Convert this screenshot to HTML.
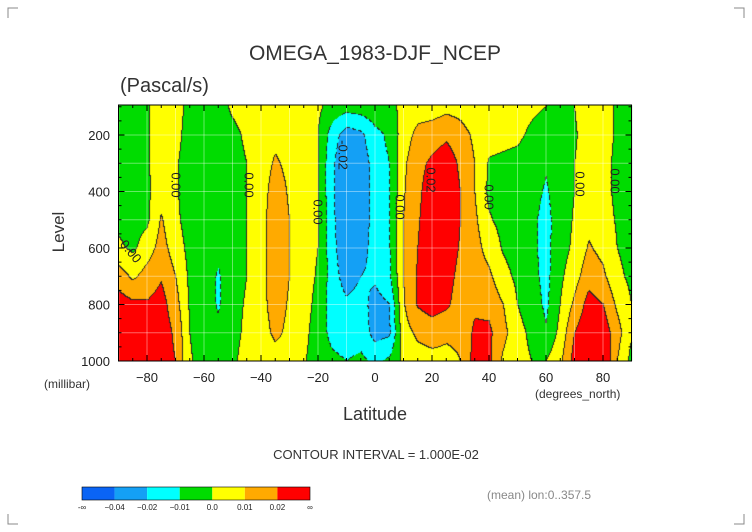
<!DOCTYPE html>
<html><head><meta charset="utf-8">
<style>
html,body{margin:0;padding:0;background:#fff;}
#wrap{position:relative;width:752px;height:532px;overflow:hidden;font-family:"Liberation Sans",sans-serif;}
canvas{position:absolute;left:0;top:0;}
svg{position:absolute;left:0;top:0;}
</style></head>
<body>
<div id="wrap">
<canvas id="cv" width="752" height="532"></canvas>
<svg id="sv" width="752" height="532"></svg>
</div>
<script>
// ---- data (omega in 1e-3 Pa/s) ----
const lats = [-90,-85,-80,-75,-70,-65,-60,-55,-50,-45,-40,-35,-30,-25,-20,-15,-10,-5,0,5,10,15,20,25,30,35,40,45,50,55,60,65,70,75,80,85,90];
const levels = [100,200,300,400,500,600,700,800,900,1000];
const col_m90=[-5,-5,-5,-5,-3,2,15,25,30,25];
const col_m85=[-4,-4,-4,-4,-4,-2,8,22,30,28];
const col_m80=[-1,-1,-1,-2,-2,5,14,21,28,30];
const col_m75=[5,5,5,6,11,14,19,24,26,25];
const col_m70=[4,3,1,1,2,5,10,14,18,20];
const col_m65=[-3,-4,-4,-4,-4,-3,-2,-1,0,1];
const col_m60=[-4,-5,-5,-5,-5,-5,-5,-5,-4,-4];
const col_m55=[-5,-5,-5,-5,-6,-8,-11,-11,-8,-6];
const col_m50=[2,-3,-4,-4,-4,-4,-4,-3,-3,-2];
const col_m45=[5,2,0,0,0,0,0,1,2,4];
const col_m40=[6,6,6,6,7,7,7,7,6,5];
const col_m35=[6,8,11,14,15,15,15,14,12,6];
const col_m30=[5,6,8,9,10,10,10,9,8,5];
const col_m25=[4,4,3,3,4,4,4,4,3,1];
const col_m20=[2,0,0,0,0,0,-1,-3,-5,-5];
const col_m15=[-4,-15,-18,-18,-17,-16,-15,-15,-13,-8];
const col_m10=[-6,-25,-30,-32,-32,-30,-25,-18,-15,-10];
const col_m5=[-5,-22,-27,-28,-26,-24,-20,-16,-14,-8];
const col_0=[-3,-13,-15,-15,-16,-16,-18,-24,-24,-12];
const col_5=[-2,-8,-10,-11,-11,-11,-12,-20,-22,-8];
const col_10=[2,5,8,9,10,10,10,9,6,2];
const col_15=[5,13,17,18,19,20,21,21,12,6];
const col_20=[5,15,22,25,26,27,28,25,14,7];
const col_25=[7,18,26,28,28,26,24,22,12,7];
const col_30=[6,14,18,20,20,19,17,15,12,10];
const col_35=[3,8,10,10,12,14,15,18,22,24];
const col_40=[4,4,-1,-2,1,6,12,17,22,22];
const col_45=[4,3,-2,-4,-3,-1,3,10,13,8];
const col_50=[4,2,-3,-5,-5,-4,-2,0,3,3];
const col_55=[2,-2,-6,-7,-8,-8,-7,-5,-2,0];
const col_60=[0,-5,-9,-11,-13,-13,-13,-12,-9,0];
const col_65=[-1,-4,-5,-5,-5,-4,-2,0,3,8];
const col_70=[0,-1,0,0,1,2,6,12,20,24];
const col_75=[5,4,4,5,7,11,16,24,28,30];
const col_80=[3,3,3,3,4,7,12,20,26,30];
const col_85=[-1,-1,-2,-2,-1,0,2,8,14,10];
const col_90=[-5,-5,-4,-4,-3,-3,-2,0,1,-3];
const omegaCols=[col_m90,col_m85,col_m80,col_m75,col_m70,col_m65,col_m60,col_m55,col_m50,col_m45,col_m40,col_m35,col_m30,col_m25,col_m20,col_m15,col_m10,col_m5,col_0,col_5,col_10,col_15,col_20,col_25,col_30,col_35,col_40,col_45,col_50,col_55,col_60,col_65,col_70,col_75,col_80,col_85,col_90];
const thresholds=[-40,-20,-10,0,10,20];
const bandColors=[[10,100,245],[20,160,245],[0,255,255],[0,220,0],[255,255,0],[255,170,0],[255,0,0]];
const cbLabels=["-\u221e","\u22120.04","\u22120.02","\u22120.01","0.0","0.01","0.02","\u221e"];
const xTicks=[-80,-60,-40,-20,0,20,40,60,80];
const yTicks=[200,400,600,800,1000];

// ---- axes ----
const X0=118.5,X1=631.5,Y0=105,Y1=361;
function xs(lat){return X0+(lat+90)/180*(X1-X0);}
function ys(l){return 106.75+(l-100)*0.2825;}
function inv(x,y){return [(x-X0)/(X1-X0)*180-90, 100+(y-106.75)/0.2825];}
function valAt(lat,l){
  let i=0;while(i<lats.length-2&&lat>lats[i+1])i++;
  let j=0;while(j<levels.length-2&&l>levels[j+1])j++;
  let tx=(lat-lats[i])/(lats[i+1]-lats[i]);tx=Math.max(0,Math.min(1,tx));
  let ty=(l-levels[j])/(levels[j+1]-levels[j]);ty=Math.max(0,Math.min(1,ty));
  const a=omegaCols[i][j],b=omegaCols[i+1][j],c=omegaCols[i][j+1],d=omegaCols[i+1][j+1];
  return (a*(1-tx)+b*tx)*(1-ty)+(c*(1-tx)+d*tx)*ty;
}
function band(v){let k=0;while(k<thresholds.length&&v>=thresholds[k])k++;return k;}
const cv=document.getElementById('cv'),ctx=cv.getContext('2d');
const W=Math.round(X1-X0),H=Math.round(Y1-Y0);
const bands=[];
for(let y=0;y<H;y++){bands.push([]);for(let x=0;x<W;x++){const p=inv(X0+x+0.5,Y0+y+0.5);bands[y].push(band(valAt(p[0],p[1])));}}
const img=ctx.createImageData(W,H);
for(let y=0;y<H;y++)for(let x=0;x<W;x++){
  const b=bands[y][x];let c=bandColors[b];
  const edge=(x<W-1&&bands[y][x+1]!==b)||(y<H-1&&bands[y+1][x]!==b);
  if(edge){const neg=Math.min(b,x<W-1?bands[y][x+1]:b,y<H-1?bands[y+1][x]:b)<3&&Math.max(b,x<W-1?bands[y][x+1]:b,y<H-1?bands[y+1][x]:b)<=3;
    if(!neg||((x+y)%8<5))c=[40,40,40];}
  const o=(y*W+x)*4;img.data[o]=c[0];img.data[o+1]=c[1];img.data[o+2]=c[2];img.data[o+3]=255;}
ctx.putImageData(img,Math.round(X0),Y0);

// ---- svg overlay ----
const NS='http://www.w3.org/2000/svg',sv=document.getElementById('sv');
function mk(t,a,txt){const e=document.createElementNS(NS,t);for(const k in a)e.setAttribute(k,a[k]);if(txt!==undefined)e.textContent=txt;sv.appendChild(e);return e;}
for(let lat=-80;lat<=80;lat+=10){const g=mk('line',{x1:xs(lat),x2:xs(lat),y1:Y0,y2:Y1,stroke:'rgba(255,255,255,0.4)','stroke-width':1});
}
for(let l=200;l<1000;l+=100){const g=mk('line',{x1:X0,x2:X1,y1:ys(l),y2:ys(l),stroke:'rgba(255,255,255,0.4)','stroke-width':1});
}
const fr=mk('rect',{x:X0,y:Y0,width:X1-X0,height:Y1-Y0,fill:'none',stroke:'#000','stroke-width':1});

for(let lat=-90;lat<=90;lat+=5){const L=lat%20===0?6:3;
 mk('line',{x1:xs(lat),x2:xs(lat),y1:Y1,y2:Y1-L,stroke:'#000'});mk('line',{x1:xs(lat),x2:xs(lat),y1:Y0,y2:Y0+L,stroke:'#000'});}
for(let l=100;l<=1000;l+=50){const L=l%200===0?6:3;
 mk('line',{x1:X0,x2:X0+L,y1:ys(l),y2:ys(l),stroke:'#000'});mk('line',{x1:X1,x2:X1-L,y1:ys(l),y2:ys(l),stroke:'#000'});}
xTicks.forEach(t=>{const e=mk('text',{x:xs(t),y:382,'font-size':13,'text-anchor':'middle',fill:'#222'},t<0?'\u2212'+(-t):String(t));
 });
yTicks.forEach(t=>{const e=mk('text',{x:110,y:ys(t)+5,'font-size':13,'text-anchor':'end',fill:'#222'},String(t));
 });
const cl=[[175,185,'0.00',90],[248,185,'0.00',90],[317,212,'0.00',90],[342,155,'-0.02',90],[399,207,'0.00',90],[430,180,'0.02',90],[488,197,'0.00',90],[579,184,'0.00',90],[614,181,'0.00',90],[130,252,'0.00',50]];
cl.forEach(c=>{const e=mk('text',{x:c[0],y:c[1],'font-size':13,'text-anchor':'middle','dominant-baseline':'middle',fill:'#222',transform:`rotate(${c[3]} ${c[0]} ${c[1]})`},c[2]);
 });
const cbx0=82,cbx1=310,cbw=(cbx1-cbx0)/bandColors.length;
bandColors.forEach((c,i)=>{const r=mk('rect',{x:cbx0+i*cbw,y:487,width:cbw,height:13,fill:`rgb(${c})`});
 });
mk('rect',{x:cbx0,y:487,width:cbx1-cbx0,height:13,fill:'none',stroke:'#000','stroke-width':0.6});
cbLabels.forEach((t,i)=>{const e=mk('text',{x:cbx0+i*cbw,y:510,'font-size':8,'text-anchor':'middle',fill:'#222'},t);
 });
</script>
<svg width="752" height="532" style="position:absolute;left:0;top:0">
<g font-family="Liberation Sans, sans-serif" fill="#333">
<text x="375" y="60" font-size="21" text-anchor="middle">OMEGA_1983-DJF_NCEP</text>
<text x="120" y="92" font-size="20">(Pascal/s)</text>
<text x="64" y="232" font-size="17" text-anchor="middle" transform="rotate(-90 64 232)">Level</text>
<text x="44" y="388" font-size="12">(millibar)</text>
<text x="535" y="398" font-size="12">(degrees_north)</text>
<text x="375" y="420" font-size="18" text-anchor="middle">Latitude</text>
<text x="376" y="459" font-size="13" text-anchor="middle">CONTOUR INTERVAL = 1.000E-02</text>
<text x="487" y="499" font-size="12" fill="#888">(mean) lon:0..357.5</text>
</g>
<g stroke="#888" stroke-width="1" fill="none">
<path d="M8 18V8H18"/><path d="M734 8H744V18"/><path d="M8 514V524H18"/><path d="M734 524H744V514"/>
</g>
</svg>
</body></html>
